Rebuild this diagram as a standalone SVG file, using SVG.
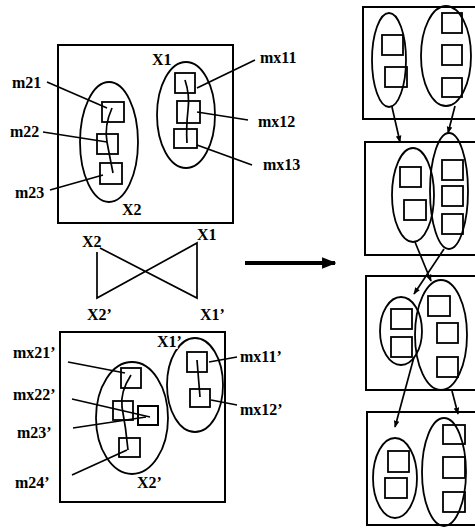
<svg xmlns="http://www.w3.org/2000/svg" width="475" height="530" viewBox="0 0 475 530">
<style>
.b{fill:#fff;stroke:#000;stroke-width:2}
.e{fill:none;stroke:#000;stroke-width:1.8}
.s{fill:none;stroke:#000;stroke-width:1.8}
.l{fill:none;stroke:#000;stroke-width:1.7}
.t{font-family:"Liberation Serif","Times New Roman",serif;font-weight:bold;font-size:16px;fill:#000}
</style>
<defs>
<marker id="ah" viewBox="0 0 10 10" refX="9" refY="5" markerWidth="7" markerHeight="7" markerUnits="userSpaceOnUse" orient="auto">
<path d="M0,1 L10,5 L0,9 Z" fill="#000"/>
</marker>
<marker id="bh" viewBox="0 0 10 10" refX="9" refY="5" markerWidth="3.6" markerHeight="3.6" orient="auto">
<path d="M0,1 L10,5 L0,9 Z" fill="#000"/>
</marker>
</defs>

<g id="top-left-box">
<rect class="b" x="58" y="45" width="175" height="178"/>
<ellipse id="X2" class="e" cx="109" cy="142" rx="29" ry="60"/>
<ellipse id="X1" class="e" cx="186" cy="115" rx="29" ry="53"/>
<rect class="s" x="102" y="102" width="22" height="20"/>
<rect class="s" x="97" y="134" width="21" height="20"/>
<rect class="s" x="100" y="163" width="22" height="21"/>
<rect class="s" x="175" y="73" width="20" height="20"/>
<rect class="s" x="177" y="101" width="23" height="22"/>
<rect class="s" x="174" y="129" width="23" height="19"/>
<text class="t" x="152" y="65">X1</text>
<text class="t" x="122" y="215">X2</text>
<text class="t" x="12" y="88">m21</text>
<text class="t" x="10" y="137">m22</text>
<text class="t" x="15" y="198">m23</text>
<text class="t" x="260" y="63">mx11</text>
<text class="t" x="258" y="127">mx12</text>
<text class="t" x="263" y="170">mx13</text>
</g>

<g id="bottom-left-box">
<rect class="b" x="60" y="332" width="165" height="170"/>
<ellipse id="X2p" class="e" cx="132" cy="418" rx="36" ry="56"/>
<ellipse id="X1p" class="e" cx="195" cy="385" rx="28" ry="47"/>
<rect class="s" x="121" y="368" width="20" height="20"/>
<rect class="s" x="113" y="401" width="20" height="19"/>
<rect class="b" x="138" y="406" width="20" height="19"/>
<rect class="s" x="119" y="438" width="21" height="19"/>
<rect class="s" x="187" y="352" width="20" height="20"/>
<rect class="s" x="190" y="389" width="20" height="18"/>
<text class="t" x="157" y="347" stroke="#fff" stroke-width="4" paint-order="stroke">X1’</text>
<text class="t" x="137" y="488">X2’</text>
<text class="t" x="13" y="358">mx21’</text>
<text class="t" x="13" y="400">mx22’</text>
<text class="t" x="17" y="438">m23’</text>
<text class="t" x="15" y="488">m24’</text>
<text class="t" x="240" y="362">mx11’</text>
<text class="t" x="240" y="415">mx12’</text>
</g>

<g id="swap-labels">
<text class="t" x="82" y="247">X2</text>
<text class="t" x="197" y="240">X1</text>
<text class="t" x="87" y="320">X2’</text>
<text class="t" x="200" y="320">X1’</text>
</g>

<g id="right-box-1">
<rect class="b" x="363" y="7" width="120" height="112"/>
<ellipse class="e" cx="389" cy="60" rx="17" ry="47"/>
<ellipse class="e" cx="446" cy="56" rx="25" ry="50"/>
<rect class="s" x="382" y="35" width="21" height="20"/>
<rect class="s" x="385" y="67" width="22" height="20"/>
<rect class="s" x="442" y="13" width="20" height="20"/>
<rect class="s" x="442" y="45" width="20" height="20"/>
<rect class="s" x="442" y="78" width="20" height="19"/>
</g>

<g id="right-box-2">
<rect class="b" x="365" y="142" width="120" height="113"/>
<ellipse class="e" cx="413" cy="195" rx="21" ry="47"/>
<ellipse class="e" cx="449" cy="191" rx="19" ry="58"/>
<rect class="s" x="400" y="167" width="21" height="20"/>
<rect class="s" x="404" y="200" width="22" height="20"/>
<rect class="s" x="442" y="160" width="21" height="20"/>
<rect class="s" x="442" y="186" width="21" height="20"/>
<rect class="s" x="442" y="214" width="21" height="20"/>
</g>

<g id="right-box-3">
<rect class="b" x="366" y="276" width="120" height="114"/>
<ellipse class="e" cx="401" cy="331" rx="21" ry="34"/>
<ellipse class="e" cx="441" cy="335" rx="26" ry="55"/>
<rect class="s" x="391" y="309" width="21" height="20"/>
<rect class="s" x="391" y="337" width="21" height="20"/>
<rect class="s" x="428" y="296" width="22" height="20"/>
<rect class="s" x="437" y="323" width="21" height="20"/>
<rect class="s" x="437" y="357" width="21" height="20"/>
</g>

<g id="right-box-4">
<rect class="b" x="367" y="412" width="120" height="113"/>
<ellipse class="e" cx="395" cy="478" rx="22" ry="40"/>
<ellipse class="e" cx="444" cy="472" rx="22" ry="54"/>
<rect class="s" x="388" y="451" width="21" height="21"/>
<rect class="s" x="385" y="478" width="22" height="20"/>
<rect class="s" x="443" y="425" width="22" height="19"/>
<rect class="s" x="443" y="457" width="22" height="21"/>
<rect class="s" x="443" y="492" width="22" height="20"/>
</g>

<g id="connectors">
<path class="l" d="M112,108 Q104,126 107,142 Q110,158 113,173"/>
<path class="l" d="M185,80 Q190,95 188,110 Q186,128 187,143"/>
<line class="l" x1="47" y1="82" x2="107" y2="108"/>
<line class="l" x1="43" y1="132" x2="107" y2="142"/>
<line class="l" x1="50" y1="190" x2="103" y2="175"/>
<line class="l" x1="197" y1="88" x2="255" y2="60"/>
<line class="l" x1="197" y1="112" x2="248" y2="120"/>
<line class="l" x1="197" y1="145" x2="252" y2="165"/>

<path class="l" d="M131,375 Q120,392 122,407 Q126,428 128,450"/>
<line class="l" x1="197" y1="360" x2="200" y2="397"/>
<line class="l" x1="68" y1="362" x2="125" y2="373"/>
<line class="l" x1="72" y1="399" x2="150" y2="417"/>
<line class="l" x1="73" y1="428" x2="146" y2="417"/>
<line class="l" x1="72" y1="475" x2="127" y2="450"/>
<line class="l" x1="209" y1="362" x2="237" y2="357"/>
<line class="l" x1="211" y1="400" x2="237" y2="405"/>

<path class="l" d="M100,248 L197,298 L197,243 L97,298 L97,252"/>

<line x1="245" y1="263" x2="335" y2="263" stroke="#000" stroke-width="4" marker-end="url(#bh)"/>

<line class="l" x1="392" y1="107" x2="400" y2="142" marker-end="url(#ah)"/>
<line class="l" x1="455" y1="106" x2="448" y2="133" marker-end="url(#ah)"/>
<line class="l" x1="415" y1="242" x2="431" y2="281" marker-end="url(#ah)"/>
<line class="l" x1="444" y1="249" x2="414" y2="294" marker-end="url(#ah)"/>
<line class="l" x1="414" y1="357" x2="395" y2="427" marker-end="url(#ah)"/>
<line class="l" x1="452" y1="391" x2="458" y2="414" marker-end="url(#ah)"/>
</g>
</svg>
